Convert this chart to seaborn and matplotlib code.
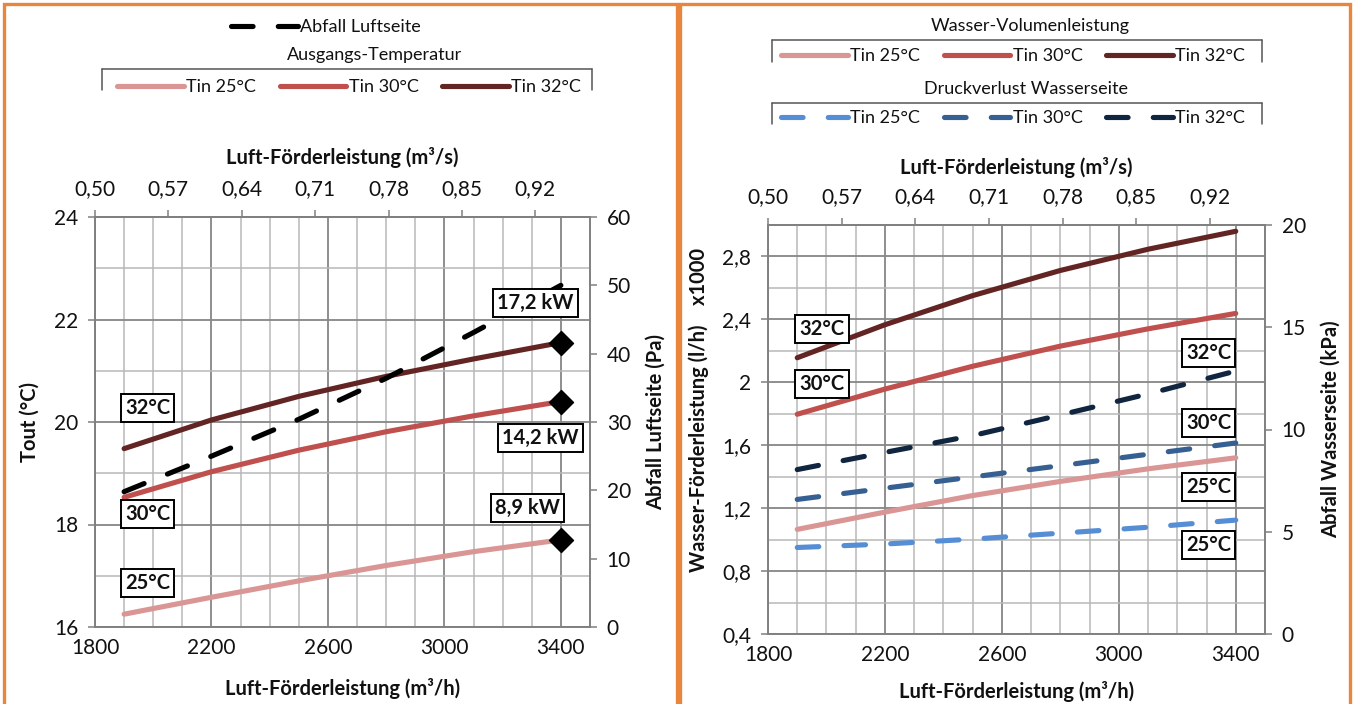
"""
Luftkuehler Kennlinien: Ausgangstemperatur / Abfall Luftseite und
Wasser-Volumenleistung / Druckverlust Wasserseite ueber Luft-Foerderleistung
"""

import numpy as np
import matplotlib
matplotlib.use('Agg')
import matplotlib.pyplot as plt
from matplotlib.lines import Line2D
from matplotlib.patches import Rectangle
from matplotlib.ticker import MultipleLocator, FuncFormatter, FixedLocator
import seaborn as sns

W, H = 1354, 704

# Luft-Foerderleistung (m3/h)
luft_m3h = [1900, 2200, 2500, 2800, 3100, 3400]

# linkes Diagramm - Ausgangs-Temperatur (°C)
tout_25 = [16.25, 16.58, 16.90, 17.20, 17.47, 17.70]
tout_30 = [18.53, 19.03, 19.45, 19.81, 20.12, 20.40]
tout_32 = [19.48, 20.04, 20.50, 20.89, 21.23, 21.55]
# Abfall Luftseite (Pa)
abfall_luft = [19.8, 25.0, 30.4, 36.4, 43.1, 50.0]
leistung_kw = ['8,9 kW', '14,2 kW', '17,2 kW']

# rechtes Diagramm - Wasser-Volumenleistung (l/h x1000)
wasser_25 = [1.065, 1.175, 1.28, 1.37, 1.45, 1.52]
wasser_30 = [1.797, 1.957, 2.102, 2.230, 2.340, 2.438]
wasser_32 = [2.156, 2.366, 2.551, 2.711, 2.846, 2.96]
# Druckverlust Wasserseite (kPa)
dp_25 = [4.23, 4.40, 4.64, 4.93, 5.22, 5.57]
dp_30 = [6.58, 7.13, 7.68, 8.23, 8.79, 9.34]
dp_32 = [8.04, 8.88, 9.70, 10.71, 11.74, 12.86]

tin_labels = ['Tin 25°C', 'Tin 30°C', 'Tin 32°C']
temp_labels = ['25°C', '30°C', '32°C']
bottom_ticks = [1800, 2200, 2600, 3000, 3400]
top_ticks = [0.50, 0.57, 0.64, 0.71, 0.78, 0.85, 0.92]

RED = ['#D99694', '#C0504D', '#632523']
BLUE = ['#558ED5', '#376092', '#10253F']
ORANGE = '#E9853C'
GRID_MAJ = '#868686'
GRID_MIN = '#b8b8b8'
SPINE = '#808080'

sns.set_theme(style='white')
plt.rcParams['font.family'] = ['Lato', 'DejaVu Sans']
plt.rcParams['text.color'] = '#111111'
plt.rcParams['axes.labelcolor'] = '#111111'
plt.rcParams['xtick.color'] = '#111111'
plt.rcParams['ytick.color'] = '#111111'

LW = 3.7
DASH = (0, (4.2, 4.9))
TICK_FS = 15
LAB_FS = 14.5
LEG_FS = 13


def comma(fmt):
    return FuncFormatter(lambda v, _: format(v, fmt).replace('.', ','))


def style_axes(ax, ymaj, ymin):
    ax.set_xlim(1800, 3500)
    ax.xaxis.set_major_locator(FixedLocator(bottom_ticks))
    ax.xaxis.set_minor_locator(MultipleLocator(100))
    ax.yaxis.set_major_locator(MultipleLocator(ymaj))
    ax.yaxis.set_minor_locator(MultipleLocator(ymin))
    ax.set_axisbelow(True)
    ax.grid(which='major', color=GRID_MAJ, lw=1.3)
    ax.grid(which='minor', color=GRID_MIN, lw=1.1)
    for s in ax.spines.values():
        s.set_color(SPINE)
        s.set_linewidth(1.2)
    ax.tick_params(which='major', direction='out', length=5, width=1.1,
                   color=SPINE, labelsize=TICK_FS)
    ax.tick_params(which='minor', length=0)
    ax.tick_params(axis='x', pad=3)
    ax.tick_params(axis='y', pad=7)


def add_top_axis(ax, label, ycoord):
    sec = ax.secondary_xaxis('top', functions=(lambda x: x / 3600, lambda x: x * 3600))
    sec.xaxis.set_major_locator(FixedLocator(top_ticks))
    sec.xaxis.set_major_formatter(comma('.2f'))
    sec.tick_params(direction='out', length=5, width=1.1, color=SPINE,
                    labelsize=TICK_FS, pad=8)
    sec.spines['top'].set_color(SPINE)
    sec.set_xlabel(label, fontsize=LAB_FS, fontweight='bold')
    sec.xaxis.set_label_coords(0.5, ycoord, transform=ax.transAxes)
    return sec


def box_label(ax, tax, x, y, s):
    ax.text(x, y, s, transform=tax.transData, ha='center', va='center',
            fontsize=14.5, fontweight='bold', zorder=10,
            bbox=dict(boxstyle='square,pad=0.2', fc='white', ec='black', lw=1.4))


def bracket(x0, x1, ytop, ybot):
    for xs, ys in (([x0, x0], [ybot, ytop]), ([x0, x1], [ytop, ytop]), ([x1, x1], [ytop, ybot])):
        fig.add_artist(Line2D([v / W for v in xs], [1 - v / H for v in ys],
                              color='#555555', lw=1.1, transform=fig.transFigure))


def legend(handles, labels, cx, cy, ncol):
    return fig.legend(handles, labels, loc='center', bbox_to_anchor=(cx / W, 1 - cy / H),
                      ncol=ncol, frameon=False, fontsize=LEG_FS, handlelength=3.7,
                      handletextpad=0.12, columnspacing=1.3, borderpad=0, borderaxespad=0)


fig = plt.figure(figsize=(W / 100, H / 100), dpi=100)

# orange Rahmen
for x0, x1 in ((4, 677), (680, 1350)):
    fig.add_artist(Rectangle((x0 / W, -0.02), (x1 - x0) / W, 1.02 - 4 / H, fill=False,
                             ec=ORANGE, lw=2.4, transform=fig.transFigure))

# ---------------- linkes Diagramm ----------------
ax1 = fig.add_axes([95 / W, 1 - 627 / H, 495 / W, 410 / H])
ax1b = ax1.twinx()

for y, c in zip([tout_25, tout_30, tout_32], RED):
    sns.lineplot(x=luft_m3h, y=y, ax=ax1, color=c, lw=LW, solid_capstyle='round')
sns.scatterplot(x=[luft_m3h[-1]] * 3, y=[tout_25[-1], tout_30[-1], tout_32[-1]], ax=ax1,
                marker='D', s=150, color='black', edgecolor='black', zorder=6)
sns.lineplot(x=luft_m3h, y=abfall_luft, ax=ax1b, color='black', lw=LW,
             linestyle=DASH, dash_capstyle='round')

style_axes(ax1, 2, 1)
ax1.set_ylim(16, 24)
ax1.set_xlabel('Luft-Förderleistung (m³/h)', fontsize=LAB_FS, fontweight='bold')
ax1.xaxis.set_label_coords(0.5, -0.125)
ax1.set_ylabel('Tout (°C)', fontsize=LAB_FS, fontweight='bold')
ax1.yaxis.set_label_coords(-0.112, 0.5)

ax1b.set_ylim(0, 60)
ax1b.yaxis.set_major_locator(MultipleLocator(10))
ax1b.grid(False)
ax1b.tick_params(direction='out', length=5, width=1.1, color=SPINE, labelsize=TICK_FS, pad=7)
for s in ax1b.spines.values():
    s.set_color(SPINE)
    s.set_linewidth(1.2)
ax1b.set_ylabel('Abfall Luftseite (Pa)', fontsize=LAB_FS, fontweight='bold')
ax1b.yaxis.set_label_coords(1.112, 0.5)

add_top_axis(ax1, 'Luft-Förderleistung (m³/s)', 1.13)

for (x, y), s in zip([(1980, 16.86), (1980, 18.2), (1980, 20.27)], temp_labels):
    box_label(ax1b, ax1, x, y, s)
for (x, y), s in zip([(3285, 18.32), (3330, 19.69), (3313, 22.32)], leistung_kw):
    box_label(ax1b, ax1, x, y, s)

# Legenden links
dash_h = Line2D([], [], color='black', lw=LW, linestyle=DASH, dash_capstyle='round')
legend([dash_h], ['Abfall Luftseite'], 326, 27, 1)
fig.text(375 / W, 1 - 55 / H, 'Ausgangs-Temperatur', ha='center', va='center', fontsize=LEG_FS)
bracket(102, 592, 69, 90)
legend([Line2D([], [], color=c, lw=LW, solid_capstyle='round') for c in RED],
       tin_labels, 349, 87, 3)

# ---------------- rechtes Diagramm ----------------
ax2 = fig.add_axes([768 / W, 1 - 634 / H, 497 / W, 409 / H])
ax2b = ax2.twinx()

for y, c in zip([wasser_25, wasser_30, wasser_32], RED):
    sns.lineplot(x=luft_m3h, y=y, ax=ax2, color=c, lw=LW, solid_capstyle='round')
for y, c in zip([dp_25, dp_30, dp_32], BLUE):
    sns.lineplot(x=luft_m3h, y=y, ax=ax2b, color=c, lw=LW,
                 linestyle=DASH, dash_capstyle='round')

style_axes(ax2, 0.4, 0.2)
ax2.set_ylim(0.4, 3.0)
ax2.yaxis.set_major_locator(FixedLocator([0.4, 0.8, 1.2, 1.6, 2.0, 2.4, 2.8]))
ax2.yaxis.set_major_formatter(comma('g'))
ax2.set_xlabel('Luft-Förderleistung (m³/h)', fontsize=LAB_FS, fontweight='bold')
ax2.xaxis.set_label_coords(0.5, -0.115)
ax2.set_ylabel('Wasser-Förderleistung (l/h)    x1000', fontsize=LAB_FS, fontweight='bold')
ax2.yaxis.set_label_coords(-0.118, 0.548)

ax2b.set_ylim(0, 20)
ax2b.yaxis.set_major_locator(MultipleLocator(5))
ax2b.grid(False)
ax2b.tick_params(direction='out', length=5, width=1.1, color=SPINE, labelsize=TICK_FS, pad=7)
for s in ax2b.spines.values():
    s.set_color(SPINE)
    s.set_linewidth(1.2)
ax2b.set_ylabel('Abfall Wasserseite (kPa)', fontsize=LAB_FS, fontweight='bold')
ax2b.yaxis.set_label_coords(1.112, 0.5)

add_top_axis(ax2, 'Luft-Förderleistung (m³/s)', 1.125)

for (x, y), s in zip([(1985, 1.99), (1985, 2.34)], ['30°C', '32°C']):
    box_label(ax2b, ax2, x, y, s)
for (x, y), s in zip([(3308, 0.965), (3308, 1.335), (3308, 1.74), (3308, 2.185)],
                     ['25°C', '25°C', '30°C', '32°C']):
    box_label(ax2b, ax2, x, y, s)

# Legenden rechts
fig.text(1030 / W, 1 - 26 / H, 'Wasser-Volumenleistung', ha='center', va='center', fontsize=LEG_FS)
bracket(772, 1262, 40, 62)
legend([Line2D([], [], color=c, lw=LW, solid_capstyle='round') for c in RED],
       tin_labels, 1013, 56, 3)
fig.text(1026 / W, 1 - 89 / H, 'Druckverlust Wasserseite', ha='center', va='center', fontsize=LEG_FS)
bracket(772, 1262, 103, 124)
legend([Line2D([], [], color=c, lw=LW, linestyle=DASH, dash_capstyle='round') for c in BLUE],
       tin_labels, 1013, 118, 3)

fig.savefig('out.png', dpi=100)
